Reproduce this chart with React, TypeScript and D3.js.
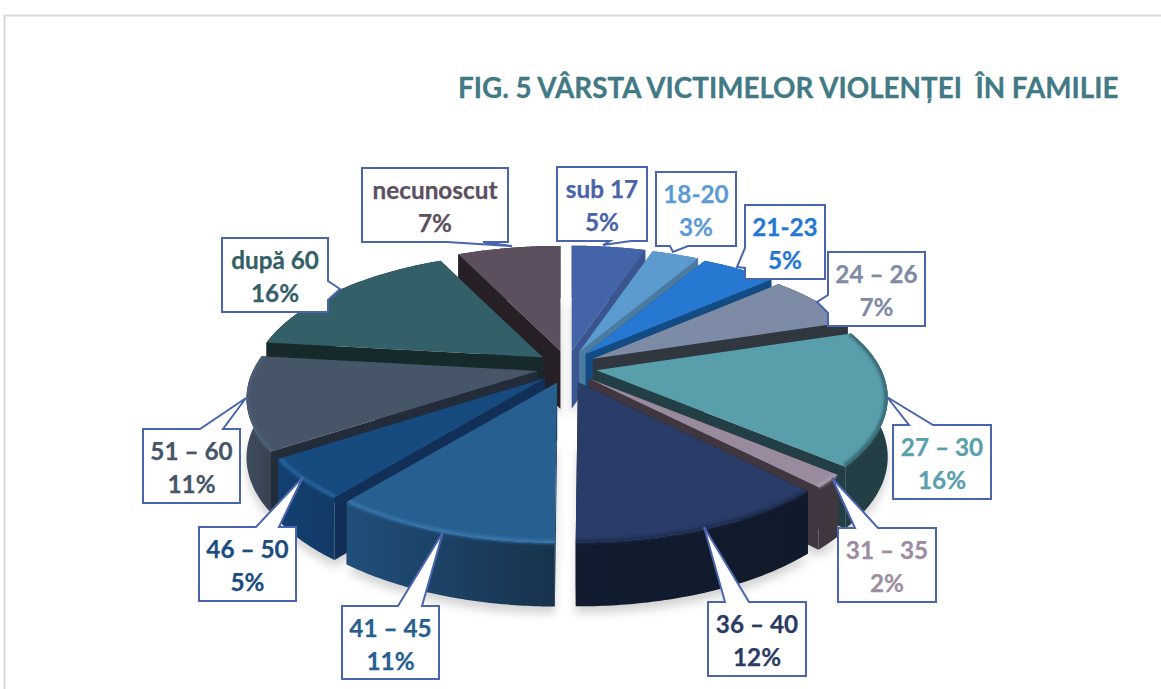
import React from "react";
import * as d3 from "d3";

const categories = ["sub 17", "18-20", "21-23", "24 – 26", "27 – 30", "31 – 35", "36 – 40", "41 – 45", "46 – 50", "51 – 60", "după 60", "necunoscut"];
const shares = [5, 3.2, 5.1, 6.7, 16.4, 1.6, 12.1, 10.5, 4.9, 11.4, 16.1, 7];
const topColors = ["#4364a8", "#5b9bd0", "#2778d0", "#7d8ba6", "#589eab", "#9a8a9e", "#2a3c68", "#275f90", "#174a7f", "#465568", "#336068", "#5c5060"];
const sideColors = ["#3a5590", "#4b7ba0", "#134b85", "#31373f", "#233f45", "#40363f", "#111a2b", "#122f50", "#123057", "#232d3a", "#162a2c", "#261f26"];
const rimStart = ["#3a5590", "#4b7ba0", "#134b85", "#31373f", "#233f45", "#40363f", "#121c30", "#204f7a", "#134070", "#3f4c5e", "#162a2c", "#261f26"];
const rimEnd = ["#3a5590", "#4b7ba0", "#134b85", "#31373f", "#233f45", "#40363f", "#101a2a", "#17324d", "#123a66", "#37434f", "#162a2c", "#261f26"];
const bevelColors = ["", "", "", "", "#2f5a62", "#ad9eb1", "#1c2a4c", "#3a7ab0", "#2a6aa5", "#50617a", "", ""];
const textColors = ["#4a62a8", "#5b9bd5", "#2277d4", "#7f8ba5", "#58a0ac", "#9c8da0", "#2a3b66", "#27608f", "#1a4c80", "#465568", "#336068", "#5c5060"];

// callout frames: box left, top, right, bottom; then pointer base A, tip, pointer base B
const frames: number[][] = [
  [557, 167, 647, 241, 610, 241, 603, 245, 631, 241],
  [656, 172, 736, 246, 670, 246, 673, 252, 688, 246],
  [745, 205, 825, 279, 745, 248, 737, 267, 745, 268],
  [828, 252, 925, 326, 828, 295, 817, 302, 828, 313],
  [893, 425, 991, 499, 933, 425, 887, 397, 909, 425],
  [838, 528, 936, 602, 855, 528, 832, 478, 878, 528],
  [708, 602, 806, 676, 725, 602, 704, 527, 749, 602],
  [342, 606, 439, 679, 398, 606, 443, 532, 422, 606],
  [199, 527, 296, 601, 256, 527, 303, 477, 279, 527],
  [143, 429, 240, 503, 200, 429, 246, 398, 223, 429],
  [222, 238, 328, 312, 328, 281, 340, 289, 328, 300],
  [362, 168, 508, 242, 447, 242, 512, 246, 483, 242],
];

const TITLE = "FIG. 5 VÂRSTA VICTIMELOR VIOLENȚEI  ÎN FAMILIE";
const FONT = "Lato, Carlito, 'Open Sans', sans-serif";
const CX = 567, CY = 367, R = 285, EXPLODE = 30, EXPLODE_Y = 0.55;
const YA = 126.8, PERSP = 0.2075;

type P = [number, number];

export default function App() {
  const arcs = d3.pie<number>().sort(null)(shares);
  const line = d3.line<P>();

  const slices = arcs.map((a, i) => {
    const mid = (a.startAngle + a.endAngle) / 2;
    const ax = CX + EXPLODE * Math.sin(mid);
    const ay = CY - EXPLODE * EXPLODE_Y * Math.cos(mid);
    const pt = (t: number, r: number, lower: boolean): P => {
      const X = r * Math.sin(t), Z = -r * Math.cos(t);
      const s = 1 / (1 - PERSP * Z);
      const depth = lower ? 58 + 6 * Z : 0;
      return [ax + R * X * s, ay + YA * Z * s + depth];
    };
    const angles = d3.range(0, 61).map((k) => a.startAngle + ((a.endAngle - a.startAngle) * k) / 60);
    const rimTop = angles.map((t) => pt(t, 1, false));
    const rimLow = angles.map((t) => pt(t, 1, true));
    const bevel = angles.map((t) => pt(t, 0.996, false));
    const apex = pt(0, 0, false);
    const apexLow = pt(0, 0, true);
    const top = [apex, ...rimTop];
    const floor = [apexLow, ...rimLow];
    const wallA = [apex, rimTop[0], rimLow[0], apexLow];
    const wallB = [apex, rimTop[60], rimLow[60], apexLow];
    const outer = [...rimTop, ...[...rimLow].reverse()];
    const xs = outer.map((p) => p[0]);
    return { i, mid, top, floor, wallA, wallB, outer, bevel, x0: d3.min(xs)!, x1: d3.max(xs)! };
  });
  const order = [...slices].sort((p, q) => -Math.cos(p.mid) - -Math.cos(q.mid));

  return (
    <svg width={1161} height={689} style={{ position: "absolute", left: 0, top: 0, background: "#fff" }}>
      <defs>
        <filter id="sh" x="-20%" y="-20%" width="140%" height="140%"><feGaussianBlur stdDeviation="5" /></filter>
        <filter id="bv" x="-20%" y="-20%" width="140%" height="140%"><feGaussianBlur stdDeviation="1.6" /></filter>
        {slices.map((s) => (
          <linearGradient key={s.i} id={`rim${s.i}`} gradientUnits="userSpaceOnUse" x1={s.x0} x2={s.x1} y1={0} y2={0}>
            <stop offset="0" stopColor={rimStart[s.i]} />
            <stop offset="1" stopColor={rimEnd[s.i]} />
          </linearGradient>
        ))}
        {slices.map((s) => (
          <clipPath key={s.i} id={`cl${s.i}`}>
            <path d={line(s.top)! + "Z"} />
            <path d={line(s.outer)! + "Z"} />
          </clipPath>
        ))}
      </defs>

      <path d="M4.5 689V15.5H1161" fill="none" stroke="#d9d9d9" strokeWidth={2} />
      <text x={458} y={98} fontFamily={FONT} fontWeight={700} fontSize={27.8} fill="#417a84" stroke="#417a84" strokeWidth={0.3} style={{ whiteSpace: "pre" }}>{TITLE}</text>

      <g filter="url(#sh)" opacity={0.5} transform="translate(0,7)">
        {slices.map((s) => <path key={s.i} d={line(s.floor)! + "Z"} fill="#a8a8a8" />)}
      </g>

      {order.map((s) => (
        <g key={s.i}>
          <path d={line(s.wallA)! + "Z"} fill={sideColors[s.i]} />
          <path d={line(s.wallB)! + "Z"} fill={sideColors[s.i]} />
          <path d={line(s.outer)! + "Z"} fill={`url(#rim${s.i})`} />
          <path d={line(s.top)! + "Z"} fill={topColors[s.i]} />
          {bevelColors[s.i] && (
            <g clipPath={`url(#cl${s.i})`}>
              <path d={line(s.bevel)!} fill="none" strokeWidth={4} filter="url(#bv)" opacity={0.85} stroke={bevelColors[s.i]} />
            </g>
          )}
        </g>
      ))}

      {frames.map((f, i) => {
        const [l, t, r, b, ax, ay, tx, ty, bx, by] = f;
        const corners: P[] = [[l, t], [r, t], [r, b], [l, b]];
        const perim = (p: P) => {
          if (p[1] === t) return p[0] - l;
          if (p[0] === r) return r - l + (p[1] - t);
          if (p[1] === b) return r - l + (b - t) + (r - p[0]);
          return 2 * (r - l) + (b - t) + (b - p[1]);
        };
        const A: P = [ax, ay], B: P = [bx, by], T: P = [tx, ty];
        const [first, second] = perim(A) < perim(B) ? [A, B] : [B, A];
        const pts: P[] = [];
        let added = false;
        const cs = corners.map((c) => ({ c, d: perim(c) }));
        for (const { c, d } of cs) {
          if (!added && perim(first) < d) { pts.push(first, T, second); added = true; }
          pts.push(c);
        }
        if (!added) pts.push(first, T, second);
        const cx = (l + r) / 2;
        return (
          <g key={categories[i]}>
            <path d={line(pts)! + "Z"} fill="#fff" stroke="#4a65ad" strokeWidth={2} strokeLinejoin="miter" />
            <text x={cx} y={t + 31} textAnchor="middle" fontFamily={FONT} fontWeight={700} fontSize={24.3} fill={textColors[i]} stroke={textColors[i]} strokeWidth={0.25}>{categories[i]}</text>
            <text x={cx} y={t + 64} textAnchor="middle" fontFamily={FONT} fontWeight={700} fontSize={24.3} fill={textColors[i]} stroke={textColors[i]} strokeWidth={0.25}>{Math.round(shares[i])}%</text>
          </g>
        );
      })}
    </svg>
  );
}
